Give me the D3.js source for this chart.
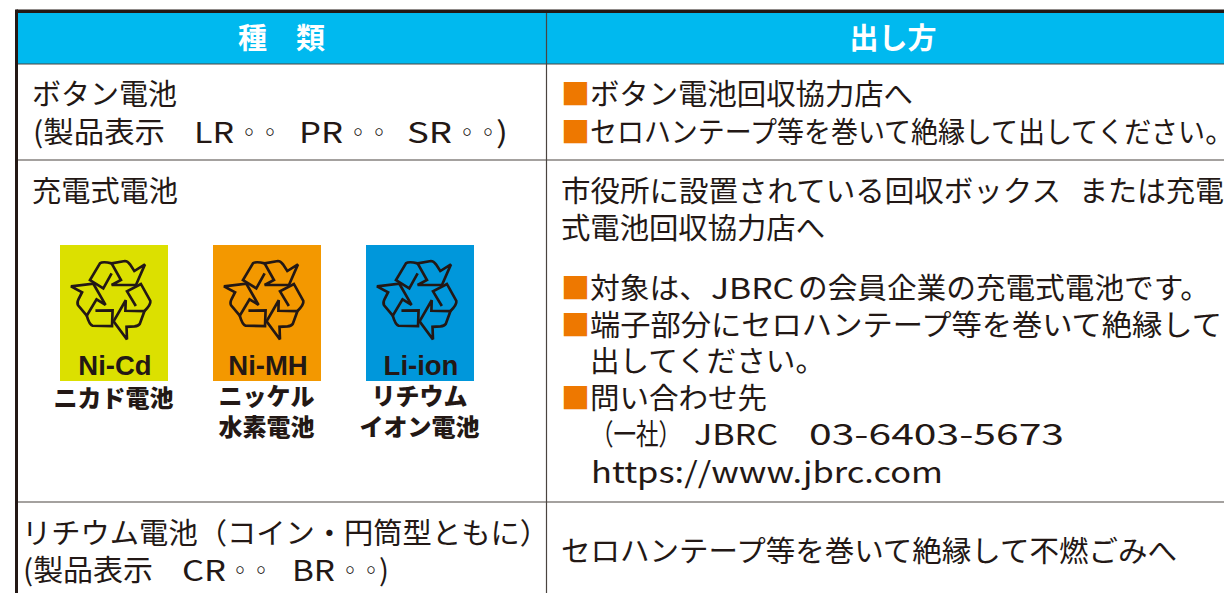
<!DOCTYPE html>
<html>
<head>
<meta charset="utf-8">
<script src="https://cdn.jsdelivr.net/npm/d3@7"></script>
<style>
  html, body { margin: 0; padding: 0; background: #fff; overflow: hidden; }
  svg { display: block; }
  text { font-family: "Noto Sans CJK JP", "Noto Sans", sans-serif; fill: #231815; }
</style>
</head>
<body>
<div id="chart"></div>
<script>
// table content
var headers = ["種　類", "出し方"];
var batteryLabels = ["Ni-Cd", "Ni-MH", "Li-ion"];
var batteryNames = [["ニカド電池"], ["ニッケル", "水素電池"], ["リチウム", "イオン電池"]];
var col1Lines = [
    "ボタン電池",
    "(製品表示", "LR", "PR", "SR", ")",
    "充電式電池",
    "リチウム電池（コイン・円筒型ともに）",
    "(製品表示", "CR", "BR", ")"
];
var col2Lines = [
    "ボタン電池回収協力店へ",
    "セロハンテープ等を巻いて絶縁して出してください",
    "市役所に設置されている回収ボックス",
    "または充電",
    "式電池回収協力店へ",
    "対象は、", "JBRC", "の会員企業の充電式電池です。",
    "端子部分にセロハンテープ等を巻いて絶縁して",
    "出してください。",
    "問い合わせ先",
    "（一社）", "JBRC", "03-6403-5673",
    "https://www.jbrc.com",
    "セロハンテープ等を巻いて絶縁して不燃ごみへ"
];
var ringMarks = ["◦◦", "◦◦", "◦◦", "◦◦", "◦◦"];

// layout: [x, baseline, width] for each text piece, same order as the lists above
var col1Layout = [
    [32, 105, 145],
    [33, 143, 132], [194, 143, 40], [299, 143, 44], [407, 143, 45], [496, 143, 12],
    [32, 202, 146],
    [22, 544, 527],
    [23, 581, 130], [182, 581, 44], [292, 581, 43], [379, 581, 10]
];
var col2Layout = [
    [590, 105, 323], [590, 143, 615],
    [561, 202, 500], [1079, 202, 145], [561, 239, 264],
    [590, 299, 119], [711, 299, 83], [798, 299, 412],
    [590, 336, 632], [590, 372, 235], [590, 409, 177],
    [591, 445, 90], [694, 445, 84], [809, 445, 255],
    [591, 483, 352], [561, 562, 616]
];
var ringLayout = [[249, 143], [358, 143], [467, 143], [240, 581], [350, 581]];
var bulletRows = [105, 143, 299, 336, 409];

var width = 1224, height = 593;
var svg = d3.select("#chart").append("svg")
    .attr("width", width)
    .attr("height", height);

var ink = "#231815";
var x = d3.scaleOrdinal().domain(["left", "mid", "right"]).range([16.5, 546, width]);
var y = d3.scaleOrdinal().domain(["top", "head", "button", "rechargeable", "lithium"]).range([11.3, 64, 160, 502, height]);
var headerX = d3.scaleOrdinal().domain(headers).range([281.5, 893]);
var badgeX = d3.scaleBand().domain(batteryLabels).range([60, 474]).paddingInner(45 / 153);
var badgeColor = d3.scaleOrdinal().domain(batteryLabels).range(["#dce000", "#f39800", "#0097db"]);

// header band
svg.append("rect")
    .attr("x", x("left")).attr("y", y("top"))
    .attr("width", width - x("left")).attr("height", y("head") - y("top"))
    .attr("fill", "#00b9ef");

svg.selectAll("text.head")
    .data(headers)
    .join("text")
    .attr("class", "head")
    .attr("x", d => headerX(d))
    .attr("y", 49)
    .attr("text-anchor", "middle")
    .attr("font-size", 29)
    .attr("font-weight", 700)
    .style("fill", "#fff")
    .text(d => d);

// grid lines
svg.selectAll("line.row")
    .data(["head", "button", "rechargeable"])
    .join("line")
    .attr("class", "row")
    .attr("x1", x("left")).attr("x2", width)
    .attr("y1", d => y(d)).attr("y2", d => y(d))
    .attr("stroke", "#4a4440").attr("stroke-width", 1.2);

svg.append("line")
    .attr("x1", x("mid") + 0.5).attr("x2", x("mid") + 0.5)
    .attr("y1", y("top")).attr("y2", height)
    .attr("stroke", "#4a4440").attr("stroke-width", 1.2);

svg.append("line")
    .attr("x1", x("left")).attr("x2", width)
    .attr("y1", y("top")).attr("y2", y("top"))
    .attr("stroke", ink).attr("stroke-width", 3.4);

svg.append("line")
    .attr("x1", x("left")).attr("x2", x("left"))
    .attr("y1", y("top") - 1.7).attr("y2", height)
    .attr("stroke", ink).attr("stroke-width", 3);

// body text, fitted to the widths
function drawLines(cls, lines, layout) {
    svg.selectAll("text." + cls)
        .data(lines)
        .join("text")
        .attr("class", cls)
        .attr("x", (d, i) => layout[i][0])
        .attr("y", (d, i) => layout[i][1])
        .attr("textLength", (d, i) => layout[i][2])
        .attr("lengthAdjust", "spacingAndGlyphs")
        .attr("font-size", 29)
        .text(d => d);
}
drawLines("col1", col1Lines, col1Layout);
drawLines("col2", col2Lines, col2Layout);

// closing full stop of the long line, set narrow so it stays on the page
svg.append("text")
    .attr("x", 1205)
    .attr("y", 143)
    .attr("font-size", 29)
    .style("font-feature-settings", "'palt'")
    .text("。");

// small rings after the product codes
svg.selectAll("text.ring")
    .data(ringMarks)
    .join("text")
    .attr("class", "ring")
    .attr("x", (d, i) => ringLayout[i][0] - 12)
    .attr("y", (d, i) => ringLayout[i][1] - 2)
    .attr("textLength", 45)
    .attr("lengthAdjust", "spacing")
    .attr("font-size", 24)
    .text(d => d);

svg.selectAll("text.bullet")
    .data(bulletRows)
    .join("text")
    .attr("class", "bullet")
    .attr("x", 561)
    .attr("y", d => d)
    .attr("font-size", 29)
    .style("fill", "#ee7800")
    .text("■");

// recycling badges
var badges = svg.selectAll("g.badge")
    .data(batteryLabels)
    .join("g")
    .attr("class", "badge")
    .attr("transform", d => "translate(" + badgeX(d) + ",245)");

badges.append("rect")
    .attr("width", badgeX.bandwidth())
    .attr("height", 136)
    .attr("fill", d => badgeColor(d));

badges.append("text")
    .attr("x", badgeX.bandwidth() / 2 + 1)
    .attr("y", 130)
    .attr("text-anchor", "middle")
    .attr("font-size", 27.5)
    .attr("font-weight", 700)
    .style("font-family", "'Liberation Sans', sans-serif")
    .text(d => d);

// one chasing arrow of the recycling mark, turned three times
var arrowHead = "M-8,-100 L32,-107 Q40,-107 47,-97 L60,-77 L92,-97 L65,-35 L-8,-35 L20,-50 Z";
var arrowTail = "M-8,-70 L-33,-25 L-73,-50 L-43,-100 Q-35,-107 -8,-100";

var marks = badges.append("g")
    .attr("transform", "translate(54.3,51.7) scale(0.3333)");

[0, 120, 240].forEach(function(angle) {
    var turn = marks.append("g").attr("transform", "rotate(" + angle + ")");
    turn.selectAll("path")
        .data([arrowTail, arrowHead])
        .join("path")
        .attr("d", d => d)
        .attr("fill", "none")
        .attr("stroke", ink)
        .attr("stroke-width", 8)
        .attr("stroke-linejoin", "miter")
        .attr("stroke-miterlimit", 3);
});

// captions below each badge
var captionCenter = d3.scaleOrdinal().domain(batteryLabels).range([113.5, 266.5, 419.5]);
batteryLabels.forEach(function(label, i) {
    svg.selectAll("text.cap" + i)
        .data(batteryNames[i])
        .join("text")
        .attr("class", "cap" + i)
        .attr("x", captionCenter(label))
        .attr("y", (d, j) => (i === 0 ? 407 : 405 + j * 31))
        .attr("text-anchor", "middle")
        .attr("font-size", 24)
        .attr("font-weight", 900)
        .text(d => d);
});
</script>
</body>
</html>
